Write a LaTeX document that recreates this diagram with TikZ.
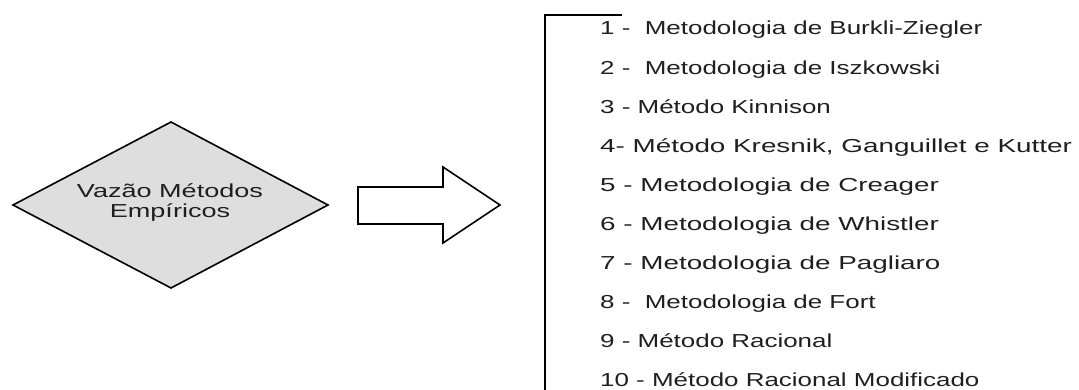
\documentclass[tikz,border=0pt]{standalone}
\usepackage{fontspec}
\setmainfont{Liberation Sans}
\newfontfamily\largo[FakeStretch=1.38]{Liberation Sans}
\newfontfamily\maislargo[FakeStretch=1.48]{Liberation Sans}
\newfontfamily\largolos[FakeStretch=1.44]{Liberation Sans}
\usetikzlibrary{positioning}

\tikzset{
  metodo/.style={anchor=base west,inner sep=0pt,font=\largo\fontsize{18.8}{22}\selectfont,text=black!88},
  metodolargo/.style={metodo,font=\maislargo\fontsize{18.8}{22}\selectfont},
}

\begin{document}
\begin{tikzpicture}[x=1pt,y=-1pt]
\useasboundingbox (0,0) rectangle (1079,390);
% losango de entrada
\draw[fill=black!13,line width=1.6pt,line join=miter] (13,205) -- (171,122) -- (328,205) -- (171,288) -- cycle;
\node[font=\largolos\fontsize{18.8}{19.5}\selectfont,text=black!88,align=center,anchor=base,inner sep=0pt] (vazao) at (170,217.5) {Vaz\~ao M\'etodos\\Emp\'iricos};

% seta de bloco
\draw[fill=white,line width=1.6pt,line join=miter] (358,187) -- (443,187) -- (443,167) -- (500,205) -- (443,243) -- (443,224) -- (358,224) -- cycle;

% colchete da lista
\coordinate (topo) at (621,15);
\coordinate (canto) at (545,15);
\coordinate (base) at (545,392);
\draw[line width=2.6pt,line cap=rect] (topo) -- (canto) -- (base);

\node[metodo] (m1) at (600,35) {1 -\ \ Metodologia de Burkli-Ziegler};
\node[metodo] (m2) at (600,74.1) {2 -\ \ Metodologia de Iszkowski};
\node[metodo] (m3) at (600,113.2) {3 - M\'etodo Kinnison};
\node[metodolargo] (m4) at (600,152.3) {4- M\'etodo Kresnik, Ganguillet e Kutter};
\node[metodolargo] (m5) at (600,191.4) {5 - Metodologia de Creager};
\node[metodolargo] (m6) at (600,230.5) {6 - Metodologia de Whistler};
\node[metodolargo] (m7) at (600,269.6) {7 - Metodologia de Pagliaro};
\node[metodo] (m8) at (600,308.7) {8 -\ \ Metodologia de Fort};
\node[metodo] (m9) at (600,347.8) {9 - M\'etodo Racional};
\node[metodo] (m10) at (600,386.9) {10 - M\'etodo Racional Modificado};

\end{tikzpicture}
\end{document}
